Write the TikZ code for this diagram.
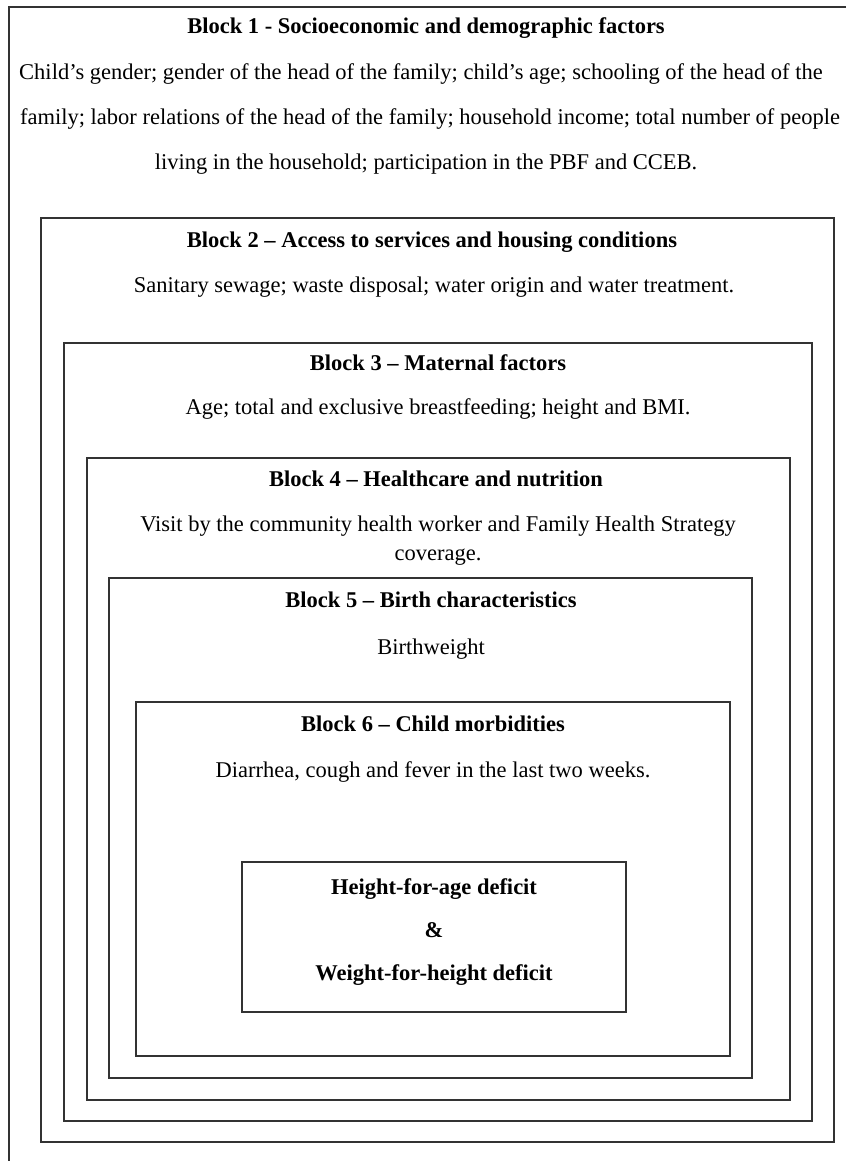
\documentclass[tikz,border=0pt]{standalone}
\usepackage{fontspec}
\setmainfont{Liberation Serif}
\begin{document}
\begin{tikzpicture}[x=1pt,y=-1pt]
	\tikzset{blockbox/.style={draw=black!80, line width=1.3pt}}
	\tikzset{blocktitle/.style={font=\fontsize{22.5}{27}\selectfont\bfseries, anchor=base, inner sep=0pt}}
	\tikzset{blocktext/.style={font=\fontsize{22.5}{27}\selectfont, anchor=base, inner sep=0pt}}
	\useasboundingbox (0,0) rectangle (846,1161);
	% nested blocks
	\draw[blockbox] (846,7) -- (9,7) -- (9,1161);
	\draw[blockbox] (41,218) rectangle (834,1142);
	\draw[blockbox] (64,343) rectangle (812,1121);
	\draw[blockbox] (87,458) rectangle (790,1100);
	\draw[blockbox] (109,578) rectangle (752,1078);
	\draw[blockbox] (136,702) rectangle (730,1056);
	\draw[blockbox] (242,862) rectangle (626,1012);
	% block 1
	\node[blocktitle] (title1) at (426,34) {Block 1 - Socioeconomic and demographic factors};
	\node[blocktext] (text1a) at (421,80) {Child’s gender; gender of the head of the family; child’s age; schooling of the head of the};
	\node[blocktext] (text1b) at (430,125) {family; labor relations of the head of the family; household income; total number of people};
	\node[blocktext] (text1c) at (426,170) {living in the household; participation in the PBF and CCEB.};
	% block 2
	\node[blocktitle] (title2) at (432,247) {Block 2 -- Access to services and housing conditions};
	\node[blocktext] (text2) at (434,292) {Sanitary sewage; waste disposal; water origin and water treatment.};
	% block 3
	\node[blocktitle] (title3) at (438,370) {Block 3 -- Maternal factors};
	\node[blocktext] (text3) at (438,414) {Age; total and exclusive breastfeeding; height and BMI.};
	% block 4
	\node[blocktitle] (title4) at (436,486) {Block 4 -- Healthcare and nutrition};
	\node[blocktext] (text4a) at (438,531) {Visit by the community health worker and Family Health Strategy};
	\node[blocktext] (text4b) at (438,560) {coverage.};
	% block 5
	\node[blocktitle] (title5) at (431,607) {Block 5 -- Birth characteristics};
	\node[blocktext] (text5) at (431,654) {Birthweight};
	% block 6
	\node[blocktitle] (title6) at (433,731) {Block 6 -- Child morbidities};
	\node[blocktext] (text6) at (433,777) {Diarrhea, cough and fever in the last two weeks.};
	% outcome
	\node[blocktitle] (out1) at (434,894) {Height-for-age deficit};
	\node[blocktitle] (out2) at (434,937) {\&};
	\node[blocktitle] (out3) at (434,980) {Weight-for-height deficit};
\end{tikzpicture}
\end{document}
